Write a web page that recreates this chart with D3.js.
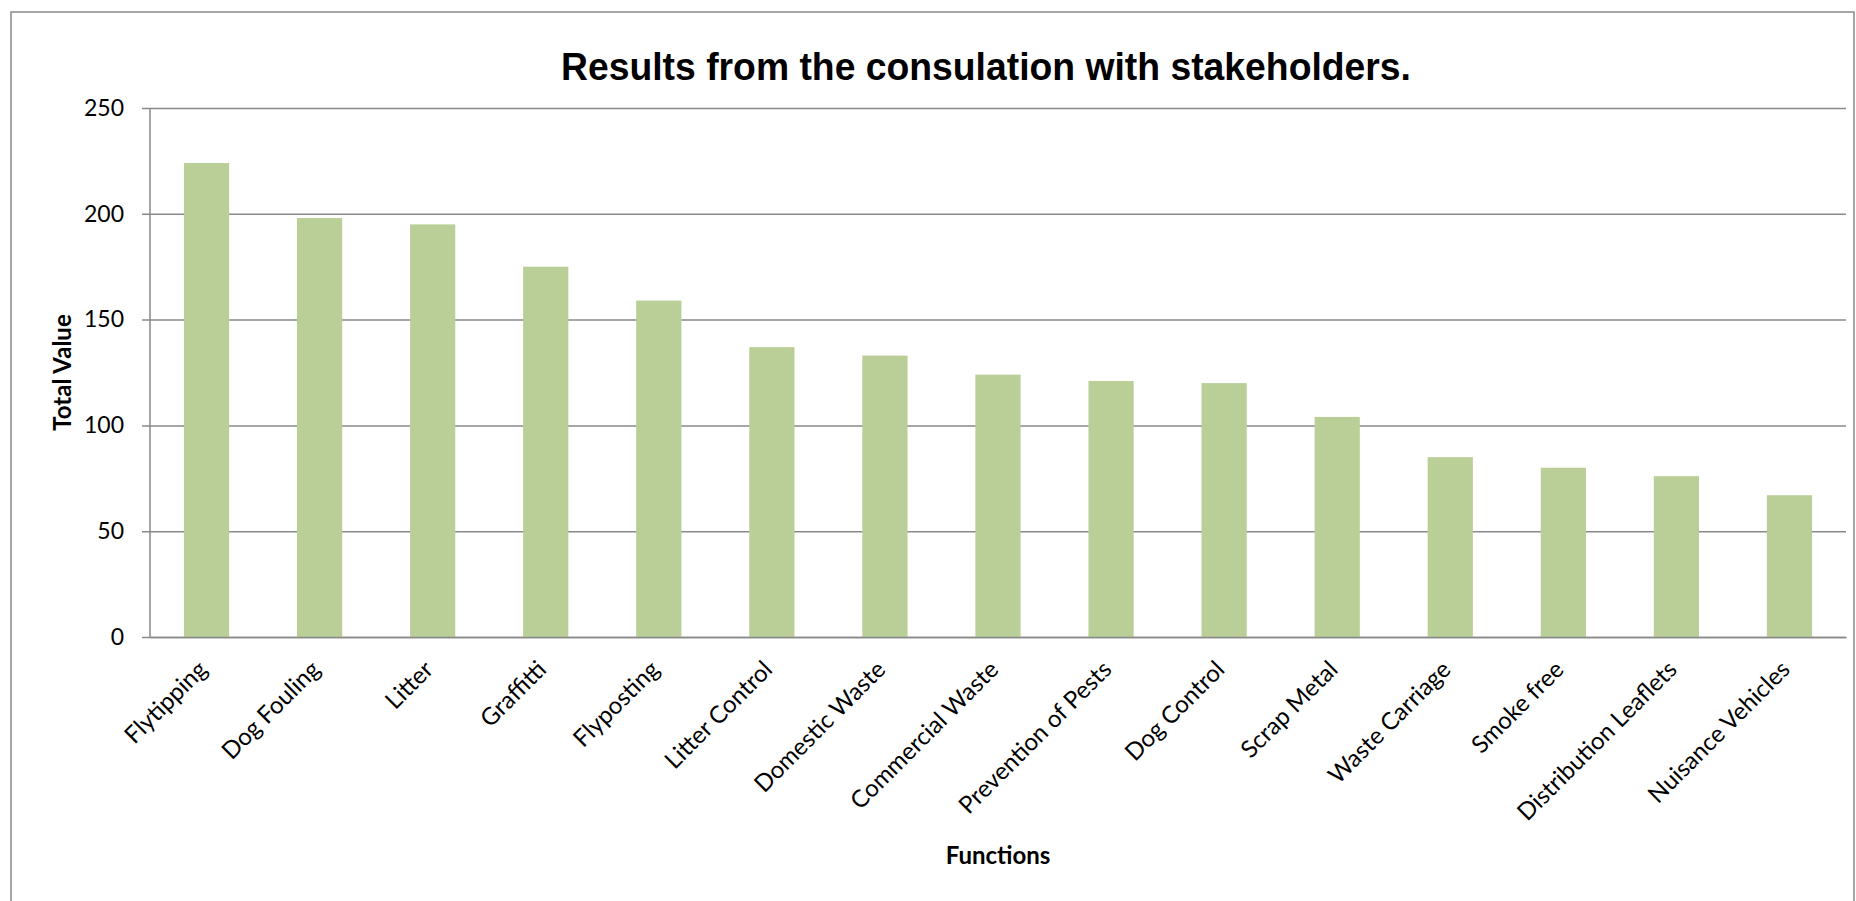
<!DOCTYPE html>
<html>
<head>
<meta charset="utf-8">
<script src="https://cdn.jsdelivr.net/npm/d3@7"></script>
<style>
  body { margin: 0; background: #fff; }
  svg { display: block; }
</style>
</head>
<body>
<div id="viz"></div>
<script>
const width = 1856, height = 901;

// data
const categories = ["Flytipping", "Dog Fouling", "Litter", "Graffitti", "Flyposting", "Litter Control",
  "Domestic Waste", "Commercial Waste", "Prevention of Pests", "Dog Control", "Scrap Metal",
  "Waste Carriage", "Smoke free", "Distribution Leaflets", "Nuisance Vehicles"];
const values = [224, 198, 195, 175, 159, 137, 133, 124, 121, 120, 104, 85, 80, 76, 67];
const yTicks = [0, 50, 100, 150, 200, 250];

const title = "Results from the consulation with stakeholders.";
const yTitle = "Total Value";
const xTitle = "Functions";

const plot = {left: 150, right: 1846, top: 108, bottom: 637};
const gridColor = "#898989";
const barColor = "#bacf98";
const labelFont = "Lato, 'Noto Sans', sans-serif";

const svg = d3.select("#viz").append("svg").attr("width", width).attr("height", height);

// chart area border
svg.append("rect")
  .attr("x", 11).attr("y", 12)
  .attr("width", 1843).attr("height", 1000)
  .attr("fill", "#fff")
  .attr("stroke", gridColor)
  .attr("stroke-width", 1.5);

const x = d3.scaleBand().domain(categories).range([plot.left, plot.right])
  .paddingInner(0.6).paddingOuter(0.3);
const y = d3.scaleLinear().domain([0, 250]).range([plot.bottom, plot.top]);

// gridlines (+ the little tick marks left of the axis)
svg.append("g")
  .attr("transform", `translate(${plot.left - 8},0)`)
  .call(d3.axisLeft(y).tickValues(yTicks).tickSize(-(plot.right - plot.left + 8)).tickFormat(""))
  .call(g => g.select(".domain").remove())
  .call(g => g.selectAll("line").attr("stroke", gridColor).attr("stroke-width", 1.5));

// y labels
svg.append("g")
  .attr("transform", `translate(${plot.left - 8},0)`)
  .call(d3.axisLeft(y).tickValues(yTicks).tickSize(0).tickPadding(18))
  .call(g => g.select(".domain").remove())
  .call(g => g.selectAll("text")
    .attr("font-family", labelFont)
    .attr("font-size", 23)
    .attr("fill", "#000"));

// bars
svg.append("g").selectAll("rect")
  .data(values)
  .join("rect")
  .attr("x", (d, i) => x(categories[i]))
  .attr("width", x.bandwidth())
  .attr("y", d => y(d))
  .attr("height", d => y(0) - y(d))
  .attr("fill", barColor);

// y axis line
svg.append("line")
  .attr("x1", plot.left).attr("x2", plot.left)
  .attr("y1", plot.top).attr("y2", plot.bottom)
  .attr("stroke", gridColor).attr("stroke-width", 1.5);

// x axis with rotated labels
svg.append("g")
  .attr("transform", `translate(0,${plot.bottom})`)
  .call(d3.axisBottom(x).tickSize(0).tickSizeOuter(0))
  .call(g => g.select(".domain").attr("stroke", gridColor).attr("stroke-width", 1.5))
  .call(g => g.selectAll("text")
    .attr("x", 2).attr("y", 34).attr("dy", 0)
    .attr("text-anchor", "end")
    .attr("transform", "rotate(-45, 2, 34)")
    .attr("font-family", labelFont)
    .attr("font-size", 24)
    .attr("fill", "#000"));

// title
svg.append("text")
  .attr("x", 986).attr("y", 80)
  .attr("text-anchor", "middle")
  .attr("font-family", "'Liberation Sans', Arial, sans-serif")
  .attr("font-weight", "bold")
  .attr("font-size", 38)
  .attr("textLength", 850)
  .attr("lengthAdjust", "spacingAndGlyphs")
  .text(title);

// axis titles
svg.append("text")
  .attr("transform", `translate(71,${(plot.top + plot.bottom) / 2}) rotate(-90)`)
  .attr("text-anchor", "middle")
  .attr("font-family", labelFont)
  .attr("font-weight", "bold")
  .attr("font-size", 24)
  .text(yTitle);

svg.append("text")
  .attr("x", (plot.left + plot.right) / 2).attr("y", 864)
  .attr("text-anchor", "middle")
  .attr("font-family", labelFont)
  .attr("font-weight", "bold")
  .attr("font-size", 24)
  .text(xTitle);
</script>
</body>
</html>
